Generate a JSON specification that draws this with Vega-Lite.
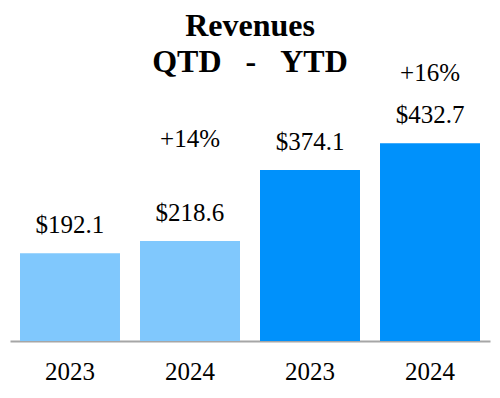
{
  "$schema": "https://vega.github.io/schema/vega-lite/v6.json",
  "width": 480,
  "height": 251,
  "autosize": {"type": "none"},
  "padding": {"left": 10, "top": 90, "right": 10, "bottom": 57},
  "background": "white",
  "config": {"view": {"stroke": null}, "font": "Liberation Serif"},
  "title": {
    "text": ["Revenues", "QTD\u00a0\u00a0\u00a0-\u00a0\u00a0\u00a0YTD"],
    "font": "Liberation Serif",
    "fontSize": 32,
    "fontWeight": "bold",
    "color": "black",
    "lineHeight": 36,
    "anchor": "middle",
    "offset": -18
  },
  "data": {
    "values": [
      {"key": "QTD 2023", "period": "QTD", "value": 192.1, "label": "$192.1", "change": ""},
      {"key": "QTD 2024", "period": "QTD", "value": 218.6, "label": "$218.6", "change": "+14%"},
      {"key": "YTD 2023", "period": "YTD", "value": 374.1, "label": "$374.1", "change": ""},
      {"key": "YTD 2024", "period": "YTD", "value": 432.7, "label": "$432.7", "change": "+16%"}
    ]
  },
  "encoding": {
    "x": {
      "field": "key",
      "type": "nominal",
      "sort": null,
      "scale": {"paddingInner": 0.1667, "paddingOuter": 0.0833},
      "axis": {
        "title": null,
        "ticks": false,
        "domainColor": "#a6a6a6",
        "domainWidth": 2,
        "labelFont": "Liberation Serif",
        "labelFontSize": 25,
        "labelColor": "black",
        "labelAngle": 0,
        "labelPadding": 18,
        "labelExpr": "slice(datum.label, 4)"
      }
    },
    "y": {
      "field": "value",
      "type": "quantitative",
      "scale": {"domain": [0, 549]},
      "axis": null
    }
  },
  "layer": [
    {
      "mark": {"type": "bar"},
      "encoding": {
        "color": {
          "field": "period",
          "type": "nominal",
          "scale": {"domain": ["QTD", "YTD"], "range": ["#80C8FD", "#0091FB"]},
          "legend": null
        }
      }
    },
    {
      "mark": {"type": "text", "dy": -28, "fontSize": 25, "font": "Liberation Serif", "color": "black", "baseline": "middle"},
      "encoding": {"text": {"field": "label"}}
    },
    {
      "transform": [{"filter": "datum.key == 'QTD 2024'"}],
      "mark": {"type": "text", "dy": -102, "fontSize": 25, "font": "Liberation Serif", "color": "black", "baseline": "middle"},
      "encoding": {"text": {"field": "change"}}
    },
    {
      "transform": [{"filter": "datum.key == 'YTD 2024'"}],
      "mark": {"type": "text", "dy": -70, "fontSize": 25, "font": "Liberation Serif", "color": "black", "baseline": "middle"},
      "encoding": {"text": {"field": "change"}}
    }
  ]
}
